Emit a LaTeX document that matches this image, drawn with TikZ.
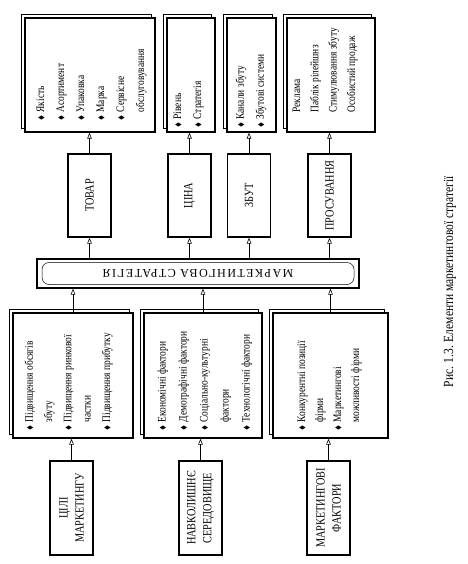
\documentclass[tikz,border=0pt]{standalone}
\usepackage{amssymb}
\usepackage{graphicx}
\usepackage{fontspec}
\setmainfont{Liberation Serif}[FakeStretch=0.82]
\newfontfamily\bannerfont{Liberation Serif}[LetterSpace=12]
\usetikzlibrary{positioning, arrows.meta, shadows}

\newcommand{\itm}{\makebox[8pt][l]{\raisebox{0.5pt}{\scalebox{0.65}{$\blacklozenge$}}}}
\newcommand{\cnt}{\hspace*{8pt}}

\begin{document}
\begin{tikzpicture}[x=1pt, y=-1pt, >={Triangle[open, length=6pt, width=4.5pt]},
    stack/.style={draw, fill=white, line width=1.2pt, inner sep=0pt,
        copy shadow={shadow xshift=-4pt, shadow yshift=3.5pt, draw, fill=white, line width=0.6pt}},
    lbl/.style={draw, line width=1.2pt, inner sep=0pt, minimum width=43pt},
    vtext/.style={rotate=90, inner sep=0pt, align=center, font=\fontsize{12.5}{16}\selectfont},
    vlist/.style={rotate=90, inner sep=0pt, align=left, anchor=north west},
    arr/.style={->, line width=0.6pt}]

    \useasboundingbox (0,0) rectangle (467,564);

    % Elements of the marketing mix (top row)
    \node[stack, minimum width=130pt, minimum height=114pt] (productList) at (90,75) {};
    \node[stack, minimum width=48pt, minimum height=114pt] (priceList) at (191,75) {};
    \node[stack, minimum width=49pt, minimum height=114pt] (distribList) at (251.5,75) {};
    \node[stack, minimum width=88pt, minimum height=114pt] (promoList) at (331,75) {};

    \node[vlist, font=\fontsize{11.5}{20}\selectfont] (productT) at ([xshift=12pt, yshift=12pt]productList.south west)
        {\itm Якість\\ \itm Асортимент\\ \itm Упаковка\\ \itm Марка\\ \itm Сервісне\\ \cnt обслуговування};
    \node[vlist, font=\fontsize{11.5}{20}\selectfont] (priceT) at ([xshift=7pt, yshift=5pt]priceList.south west)
        {\itm Рівень\\ \itm Стратегія};
    \node[vlist, font=\fontsize{11.5}{20}\selectfont] (distribT) at ([xshift=9pt, yshift=5pt]distribList.south west)
        {\itm Канали збуту\\ \itm Збутові системи};
    \node[vlist, font=\fontsize{11.5}{18.3}\selectfont] (promoT) at ([xshift=6pt, yshift=20pt]promoList.south west)
        {Реклама\\ Паблік рілейшнз\\ Стимулювання збуту\\ Особистий продаж};

    % Mix boxes
    \node[lbl, minimum height=83pt] (product) at (89.5,195.5) {};
    \node[lbl, minimum height=83pt] (price) at (189.5,195.5) {};
    \node[lbl, minimum height=83pt] (distrib) at (249,195.5) {};
    \node[lbl, minimum height=83pt] (promo) at (329.5,195.5) {};
    \node[vtext] (productN) at (product) {ТОВАР};
    \node[vtext] (priceN) at (price) {ЦІНА};
    \node[vtext] (distribN) at (distrib) {ЗБУТ};
    \node[vtext] (promoN) at (promo) {ПРОСУВАННЯ};

    % Strategy banner
    \node[draw, line width=1.2pt, minimum width=322pt, minimum height=29pt, inner sep=0pt] (strategy) at (198,273.5) {};
    \node[draw, line width=0.5pt, rounded corners=7pt, minimum width=312pt, minimum height=22pt, inner sep=0pt] (strategyIn) at (strategy) {};
    \node[rotate=180, inner sep=0pt, font=\bannerfont\fontsize{12}{14}\selectfont] (strategyT) at (strategy) {МАРКЕТИНГОВА СТРАТЕГІЯ};

    % Factor lists
    \node[stack, minimum width=120pt, minimum height=125pt] (aimsList) at (73,375.5) {};
    \node[stack, minimum width=118pt, minimum height=125pt] (envList) at (203,375.5) {};
    \node[stack, minimum width=115pt, minimum height=125pt] (factList) at (330.5,375.5) {};

    \node[vlist, font=\fontsize{11.5}{19.3}\selectfont] (aimsT) at ([xshift=12pt, yshift=8pt]aimsList.south west)
        {\itm Підвищення обсягів\\ \cnt збуту\\ \itm Підвищення ринкової\\ \cnt частки\\ \itm Підвищення прибутку};
    \node[vlist, font=\fontsize{11.5}{21}\selectfont] (envT) at ([xshift=14pt, yshift=8pt]envList.south west)
        {\itm Економічні фактори\\ \itm Демографічні фактори\\ \itm Соціально-культурні\\ \cnt фактори\\ \itm Технологічні фактори};
    \node[vlist, font=\fontsize{11.5}{18}\selectfont] (factT) at ([xshift=25pt, yshift=8pt]factList.south west)
        {\itm Конкурентні позиції\\ \cnt фірми\\ \itm Маркетингові\\ \cnt можливості фірми};

    % Sources
    \node[lbl, minimum height=94pt] (aims) at (71.5,508) {};
    \node[lbl, minimum height=94pt] (env) at (200.5,508) {};
    \node[lbl, minimum height=94pt] (fact) at (328.5,508) {};
    \node[vtext] (aimsN) at (aims) {ЦІЛІ\\МАРКЕТИНГУ};
    \node[vtext] (envN) at (env) {НАВКОЛИШНЄ\\СЕРЕДОВИЩЕ};
    \node[vtext] (factN) at (fact) {МАРКЕТИНГОВІ\\ФАКТОРИ};

    % Arrows
    \foreach \a/\b in {aims/aimsList, env/envList, fact/factList}
        \draw[arr] (\a.north) -- (\a.north |- \b.south);
    \foreach \a in {aimsList, envList, factList}
        \draw[arr] (\a.north) -- (\a.north |- strategy.south);
    \foreach \b in {product, price, distrib, promo}
        \draw[arr] (strategy.north -| \b) -- (\b.south);
    \foreach \a/\b in {product/productList, price/priceList, distrib/distribList, promo/promoList}
        \draw[arr] (\a.north) -- (\a.north |- \b.south);

    % Caption
    \node[rotate=90, font=\fontsize{14}{16}\selectfont] (caption) at (450,282) {Рис. 1.3. Елементи маркетингової стратегії};
\end{tikzpicture}
\end{document}
